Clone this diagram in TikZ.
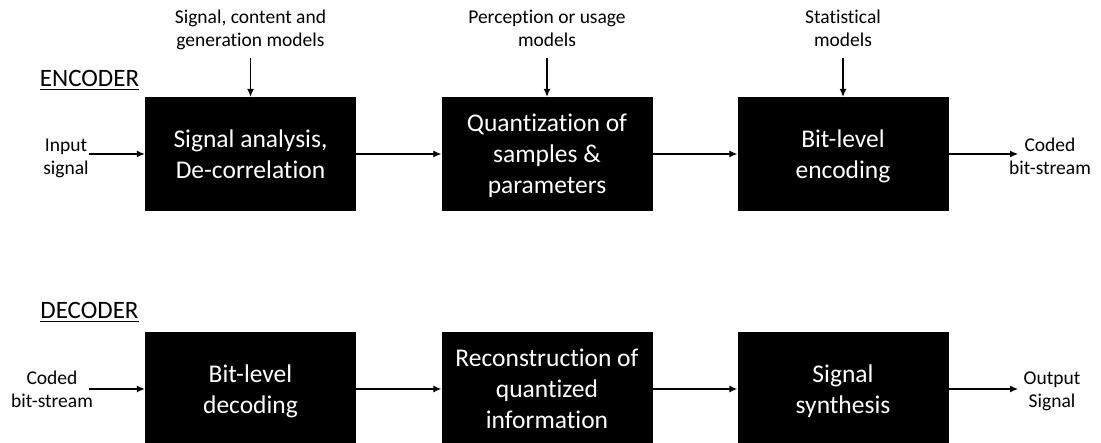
\documentclass[tikz,border=0pt]{standalone}
\usepackage{fontspec}
\setmainfont[Ligatures=NoCommon]{Carlito}
\usetikzlibrary{arrows.meta}
\begin{document}
\begin{tikzpicture}[x=1pt,y=-1pt,
  blk/.style={fill=black,draw=none,text=white,minimum width=211pt,minimum height=114pt,inner sep=0pt,text depth=0pt,align=center,font=\fontsize{25.5}{31}\selectfont},
  lbl/.style={align=center,inner sep=0pt,font=\fontsize{19.5}{23}\selectfont,anchor=base},
  hdr/.style={inner sep=0pt,anchor=base,font=\fontsize{25}{30}\selectfont},
  arr/.style={line width=1.1pt,-{Latex[length=8pt,width=7pt]}},
  ul/.style={line width=1.3pt}]
\clip (0,0) rectangle (1101,443);
% encoder
\node[hdr] (enc) at (89.5,87) {ENCODER};
\draw[ul] ([yshift=-2.5pt]enc.base west) -- ([yshift=-2.5pt]enc.base east);
\node[blk] (e1) at (250.5,154) {Signal analysis,\\De-correlation};
\node[blk] (e2) at (547,154) {Quantization of\\samples \&\\parameters};
\node[blk] (e3) at (843,154) {Bit-level\\encoding};
\node[lbl] (m1) at (250.5,47) {Signal, content and\\generation models};
\node[lbl] (m2) at (547,47) {Perception or usage\\models};
\node[lbl] (m3) at (843,47) {Statistical\\models};
\coordinate (t1) at (250.5,58);
\coordinate (t2) at (547,58);
\coordinate (t3) at (843,58);
\node[lbl] (in) at (66,175) {Input\\signal};
\node[lbl] (cb) at (1050,175) {Coded\\bit-stream};
\coordinate (ia) at (89,154);
\coordinate (oa) at (1018,154);
\draw[arr] (t1) -- (e1.north);
\draw[arr] (t2) -- (e2.north);
\draw[arr] (t3) -- (e3.north);
\draw[arr] (ia) -- (e1.west);
\draw[arr] (e1.east) -- (e2.west);
\draw[arr] (e2.east) -- (e3.west);
\draw[arr] (e3.east) -- (oa);
% decoder
\node[hdr] (dec) at (89.5,319) {DECODER};
\draw[ul] ([yshift=-2.5pt]dec.base west) -- ([yshift=-2.5pt]dec.base east);
\node[blk] (d1) at (250.5,389) {Bit-level\\decoding};
\node[blk] (d2) at (547,389) {Reconstruction of\\quantized\\information};
\node[blk] (d3) at (843,389) {Signal\\synthesis};
\node[lbl] (cb2) at (52,408) {Coded\\bit-stream};
\node[lbl] (os) at (1052,408) {Output\\Signal};
\coordinate (ib) at (89,389);
\coordinate (ob) at (1018,389);
\draw[arr] (ib) -- (d1.west);
\draw[arr] (d1.east) -- (d2.west);
\draw[arr] (d2.east) -- (d3.west);
\draw[arr] (d3.east) -- (ob);
\end{tikzpicture}
\end{document}
